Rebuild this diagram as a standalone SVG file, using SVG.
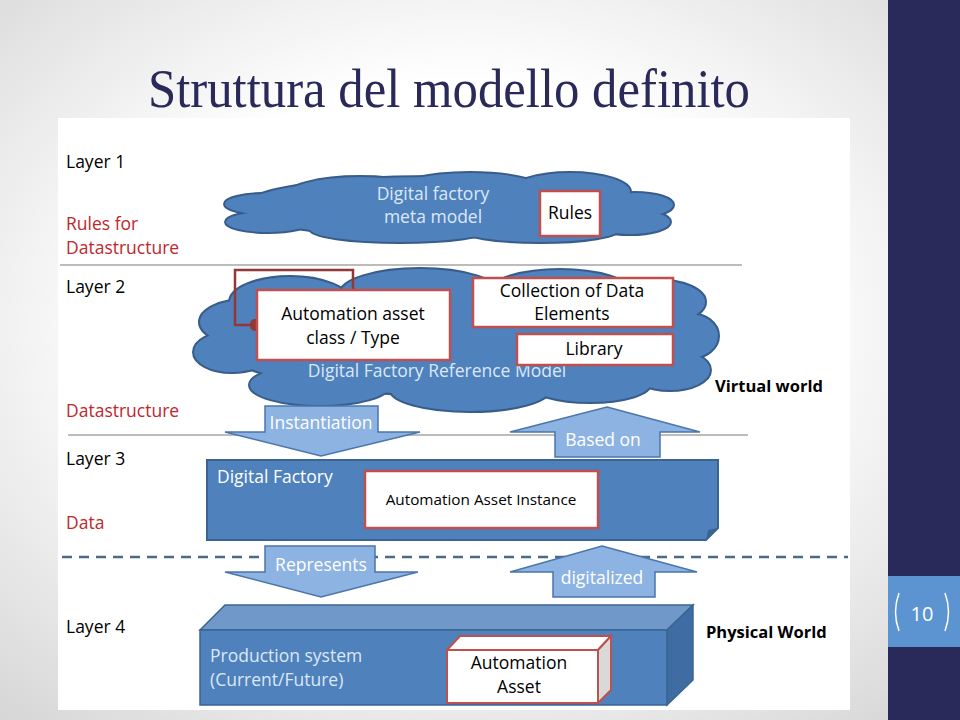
<svg xmlns="http://www.w3.org/2000/svg" width="960" height="720" viewBox="0 0 960 720">
<defs>
<radialGradient id="bg" cx="0.48" cy="0.45" r="0.75">
<stop offset="0.45" stop-color="#ffffff"/>
<stop offset="1" stop-color="#d4d4d4"/>
</radialGradient>
<marker id="dot" viewBox="0 0 6 6" refX="3" refY="3" markerWidth="5" markerHeight="5"><circle cx="3" cy="3" r="3" fill="#953735"/></marker>
</defs>
<style>
.lab{font-family:"Open Sans","Liberation Sans",sans-serif;font-size:17.5px;fill:#000}
.red{fill:#c0272d}
.bold{font-weight:bold;font-size:16.5px}
.wt{font-family:"Open Sans","Liberation Sans",sans-serif;font-size:17.5px;fill:#ffffff;text-anchor:middle}
.st{text-anchor:start}
.lt{fill:#dce8f6}
.bx{fill:#ffffff;stroke:#c0504d;stroke-width:2.5}
.bt{font-family:"Open Sans","Liberation Sans",sans-serif;font-size:17.5px;fill:#000;text-anchor:middle}
.sm{font-size:15.3px}
.cs{fill:#385d8a;stroke:#385d8a;stroke-width:4}
.cf{fill:#4f81bd}
.arr{fill:#8db3e2;stroke:#4a76aa;stroke-width:1.5}
.sep{stroke:#a6a6a6;stroke-width:1.5}
</style>
<rect width="960" height="720" fill="url(#bg)"/>
<rect x="888" y="0" width="72" height="720" fill="#292a5a"/>
<rect x="888" y="576" width="72" height="71" fill="#5b94d0"/>
<g id="pagenum" fill="none" stroke="#ffffff" stroke-width="1.5">
<path d="M899,593 Q892,612 899,631"/>
<path d="M945,593 Q952,612 945,631"/>
</g>
<text x="922" y="621" font-family="'Open Sans','Liberation Sans',sans-serif" font-size="20" fill="#ffffff" text-anchor="middle">10</text>
<text x="148" y="107" font-family="'Liberation Serif',serif" font-size="54" fill="#292a5a" textLength="602" lengthAdjust="spacingAndGlyphs">Struttura del modello definito</text>
<rect x="58" y="118" width="792" height="592" fill="#ffffff"/>

<g id="labels">
<text class="lab" x="66" y="168">Layer 1</text>
<text class="lab red" x="66" y="230">Rules for</text>
<text class="lab red" x="66" y="254">Datastructure</text>
<text class="lab" x="66" y="293">Layer 2</text>
<text class="lab red" x="66" y="417">Datastructure</text>
<text class="lab" x="66" y="465">Layer 3</text>
<text class="lab red" x="66" y="529">Data</text>
<text class="lab" x="66" y="633">Layer 4</text>
<text class="lab bold" x="715" y="392">Virtual world</text>
<text class="lab bold" x="706" y="638">Physical World</text>
</g>

<g id="separators">
<line class="sep" x1="60" y1="265" x2="742" y2="265"/>
<line class="sep" x1="68" y1="435" x2="748" y2="435"/>
<line x1="62" y1="557" x2="848" y2="557" stroke="#4b6a8a" stroke-width="2.5" stroke-dasharray="10,7"/>
</g>

<g id="cloud1">
<g class="cs">
<ellipse cx="433" cy="207" rx="190" ry="30"/>
<ellipse cx="265" cy="204" rx="40" ry="10"/>
<ellipse cx="268" cy="222" rx="42" ry="10"/>
<ellipse cx="360" cy="197" rx="75" ry="20"/>
<ellipse cx="470" cy="194" rx="80" ry="21"/>
<ellipse cx="570" cy="192" rx="60" ry="19"/>
<ellipse cx="635" cy="205" rx="38" ry="12"/>
<ellipse cx="630" cy="222" rx="40" ry="12"/>
<ellipse cx="400" cy="229" rx="90" ry="13"/>
<ellipse cx="540" cy="229" rx="80" ry="13"/>
</g>
<g class="cf">
<ellipse cx="433" cy="207" rx="190" ry="30"/>
<ellipse cx="265" cy="204" rx="40" ry="10"/>
<ellipse cx="268" cy="222" rx="42" ry="10"/>
<ellipse cx="360" cy="197" rx="75" ry="20"/>
<ellipse cx="470" cy="194" rx="80" ry="21"/>
<ellipse cx="570" cy="192" rx="60" ry="19"/>
<ellipse cx="635" cy="205" rx="38" ry="12"/>
<ellipse cx="630" cy="222" rx="40" ry="12"/>
<ellipse cx="400" cy="229" rx="90" ry="13"/>
<ellipse cx="540" cy="229" rx="80" ry="13"/>
</g>
<text class="wt lt" x="433" y="200">Digital factory</text>
<text class="wt lt" x="433" y="223">meta model</text>
</g>
<g id="rules">
<rect class="bx" x="540" y="191" width="60" height="45"/>
<text class="bt" x="570" y="219">Rules</text>
</g>

<g id="cloud2">
<g class="cs">
<ellipse cx="455" cy="340" rx="240" ry="55"/>
<ellipse cx="245" cy="322" rx="45" ry="22"/>
<ellipse cx="232" cy="352" rx="38" ry="20"/>
<ellipse cx="290" cy="302" rx="60" ry="25"/>
<ellipse cx="420" cy="294" rx="80" ry="25"/>
<ellipse cx="560" cy="292" rx="70" ry="22"/>
<ellipse cx="655" cy="302" rx="50" ry="22"/>
<ellipse cx="690" cy="336" rx="28" ry="22"/>
<ellipse cx="670" cy="370" rx="40" ry="20"/>
<ellipse cx="320" cy="385" rx="70" ry="20"/>
<ellipse cx="470" cy="389" rx="80" ry="22"/>
<ellipse cx="590" cy="384" rx="60" ry="18"/>
</g>
<g class="cf">
<ellipse cx="455" cy="340" rx="240" ry="55"/>
<ellipse cx="245" cy="322" rx="45" ry="22"/>
<ellipse cx="232" cy="352" rx="38" ry="20"/>
<ellipse cx="290" cy="302" rx="60" ry="25"/>
<ellipse cx="420" cy="294" rx="80" ry="25"/>
<ellipse cx="560" cy="292" rx="70" ry="22"/>
<ellipse cx="655" cy="302" rx="50" ry="22"/>
<ellipse cx="690" cy="336" rx="28" ry="22"/>
<ellipse cx="670" cy="370" rx="40" ry="20"/>
<ellipse cx="320" cy="385" rx="70" ry="20"/>
<ellipse cx="470" cy="389" rx="80" ry="22"/>
<ellipse cx="590" cy="384" rx="60" ry="18"/>
</g>
<text class="wt lt" x="437" y="377">Digital Factory Reference Model</text>
</g>

<g id="connectors">
<path d="M353,292 V270 H235 V325 H256" fill="none" stroke="#953735" stroke-width="2.5" marker-end="url(#dot)"/>
</g>

<g id="asset-class">
<rect class="bx" x="257" y="290" width="193" height="70"/>
<text class="bt" x="353" y="320">Automation asset</text>
<text class="bt" x="353" y="344">class / Type</text>
</g>
<g id="collection">
<rect class="bx" x="473" y="278" width="200" height="49"/>
<text class="bt" x="572" y="297">Collection of Data</text>
<text class="bt" x="572" y="320">Elements</text>
</g>
<g id="library">
<rect class="bx" x="517" y="334" width="156" height="31"/>
<text class="bt" x="594" y="355">Library</text>
</g>

<g id="instantiation">
<path class="arr" d="M265,406 H378 V432 H420 L321,456 L225,432 H265 Z"/>
<text class="wt" x="321" y="429">Instantiation</text>
</g>
<g id="based-on">
<path class="arr" d="M607,407 L700,432 H660 V457 H555 V432 H510 Z"/>
<text class="wt" x="603" y="446">Based on</text>
</g>

<g id="digital-factory">
<path d="M207,460 H718 V528 L706,540 H207 Z" fill="#4f81bd" stroke="#3a6592" stroke-width="2"/>
<path d="M718,528 L708,530 L706,540 Z" fill="#3a6592"/>
<text class="wt st" x="217" y="483">Digital Factory</text>
<rect class="bx" x="365" y="471" width="233" height="57"/>
<text class="bt sm" x="481" y="505">Automation Asset Instance</text>
</g>

<g id="represents">
<path class="arr" d="M265,546 H375 V572 H418 L321,597 L225,572 H265 Z"/>
<text class="wt" x="321" y="571">Represents</text>
</g>
<g id="digitalized">
<path class="arr" d="M602,546 L697,572 H655 V597 H553 V572 H510 Z"/>
<text class="wt" x="602" y="584">digitalized</text>
</g>

<g id="production-system">
<path d="M200,630 L225,605 H693 L667,630 Z" fill="#7098c8" stroke="#3a6592" stroke-width="1.5"/>
<path d="M667,630 L693,605 V680 L667,705 Z" fill="#3f6ca3" stroke="#3a6592" stroke-width="1.5"/>
<rect x="200" y="630" width="467" height="75" fill="#4f81bd" stroke="#3a6592" stroke-width="1.5"/>
<text class="wt lt st" x="210" y="662">Production system</text>
<text class="wt lt st" x="210" y="686">(Current/Future)</text>
</g>
<g id="automation-asset">
<path d="M447,650 L460,636 H611 L598,650 Z" fill="#ffffff" stroke="#c0504d" stroke-width="2"/>
<path d="M598,650 L611,636 V690 L598,703 Z" fill="#d9d9d9" stroke="#c0504d" stroke-width="2"/>
<rect x="447" y="650" width="151" height="53" fill="#ffffff" stroke="#c0504d" stroke-width="2"/>
<text class="bt" x="519" y="669">Automation</text>
<text class="bt" x="519" y="693">Asset</text>
</g>
</svg>
